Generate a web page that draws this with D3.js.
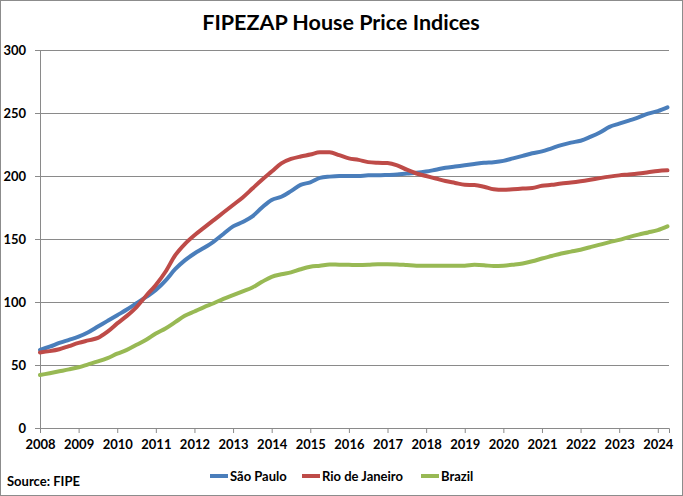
<!DOCTYPE html>
<html>
<head>
<meta charset="utf-8">
<script src="https://cdn.jsdelivr.net/npm/d3@7"></script>
<style>
body { margin: 0; background: #fff; }
text { font-family: Lato, "Open Sans", sans-serif; font-weight: bold; fill: #000; }
</style>
</head>
<body>
<div id="chartdiv"></div>
<script>
// quarterly readings, Jan 2008 .. Apr 2024
var startYear = 2008;
var step = 0.25;
var saoPaulo = [62, 64.5, 67.5, 70, 72.5, 76, 80.5, 85, 89.5, 94, 99, 104, 109.5, 117, 126, 133,
    138.5, 143, 148, 154, 160, 163.5, 168, 175, 181, 183.5, 188, 193, 195, 198.5, 199.5, 200,
    200, 200, 200.5, 200.5, 200.8, 201.2, 202, 202.5, 203.5, 205, 206.5, 207.5, 208.5, 209.5, 210.5, 211,
    212, 214, 216, 218, 219.5, 222, 224.5, 226.5, 228, 231, 234.5, 239, 241.5, 244, 246.5, 249.5, 251.5, 254.5];
var rio = [60, 61, 62.5, 65, 67.5, 69.5, 71.5, 76.5, 83, 89, 96, 105, 113.5, 124, 137, 146,
    153, 159, 165, 171, 177, 183, 190, 197, 203.5, 210, 213.5, 215.5, 217, 218.8, 218.8, 216.5,
    214, 212.8, 211, 210.5, 210.3, 208.5, 205, 202, 200, 198, 196, 194.5, 193, 192.8, 191.5, 189.5,
    189, 189.5, 190, 190.5, 192.2, 193, 194, 194.8, 195.8, 197, 198.3, 199.5, 200.5, 201.2, 202, 203, 204, 204.5];
var brazil = [42, 43.5, 45, 46.5, 48.2, 50.5, 52.8, 55.5, 59, 62, 66, 70, 75, 79, 84, 89,
    92.5, 96, 99, 102.5, 105.5, 108.5, 111.5, 116, 120, 122, 123.5, 126, 128, 128.8, 129.8, 129.6,
    129.5, 129.4, 129.6, 130, 130, 129.8, 129.3, 128.8, 128.7, 128.7, 128.7, 128.7, 128.8, 129.5, 129.2, 128.5,
    128.8, 129.6, 130.6, 132.3, 134.5, 136.5, 138.5, 140, 141.5, 143.5, 145.5, 147.5, 149.3, 151.5, 153.5, 155.2, 157, 160];
var seriesNames = ["São Paulo", "Rio de Janeiro", "Brazil"];
var colors = ["#4a7ebb", "#be4b48", "#98b954"];
var yearTicks = d3.range(2008, 2025);
var yTicks = [0, 50, 100, 150, 200, 250, 300];

var W = 683, H = 496;
var svg = d3.select("#chartdiv").append("svg").attr("width", W).attr("height", H);
svg.append("rect").attr("x", 0.5).attr("y", 0.5).attr("width", W - 1).attr("height", H - 1)
    .attr("fill", "#fff").attr("stroke", "#8c8c8c");

var x = d3.scaleLinear().domain([2008, 2024.29]).range([40, 669]);
var y = d3.scaleLinear().domain([0, 300]).range([428, 50]);

// gridlines
svg.append("g").selectAll("line").data(yTicks.slice(1)).enter().append("line")
    .attr("x1", 35).attr("x2", 669)
    .attr("y1", function(d){ return y(d); }).attr("y2", function(d){ return y(d); })
    .attr("stroke", "#8a8a8a").attr("stroke-width", 1).attr("shape-rendering", "crispEdges");

// y axis
var yAxis = svg.append("g").attr("transform", "translate(40,0)")
    .call(d3.axisLeft(y).tickValues(yTicks).tickSize(5).tickPadding(9));
yAxis.select(".domain").attr("stroke", "#8a8a8a");
yAxis.selectAll(".tick line").attr("stroke", "#8a8a8a");
yAxis.selectAll("text").attr("font-size", 13).attr("font-family", "Lato").attr("font-weight", "bold").attr("fill", "#000");

// x axis
var xAxis = svg.append("g").attr("transform", "translate(0,428)")
    .call(d3.axisBottom(x).tickValues(yearTicks).tickSize(5).tickSizeOuter(5).tickPadding(7).tickFormat(d3.format("d")));
xAxis.select(".domain").attr("stroke", "#8a8a8a");
xAxis.selectAll(".tick line").attr("stroke", "#8a8a8a");
xAxis.selectAll("text").attr("font-size", 13).attr("font-family", "Lato").attr("font-weight", "bold").attr("fill", "#000");

// lines
var allSeries = [saoPaulo, rio, brazil];
var line = d3.line()
    .x(function(d, i){ return x(startYear + i * step); })
    .y(function(d){ return y(d); })
    .curve(d3.curveMonotoneX);
allSeries.forEach(function(s, k) {
    svg.append("path").attr("d", line(s)).attr("fill", "none")
        .attr("stroke", colors[k]).attr("stroke-width", 4).attr("stroke-linejoin", "round").attr("stroke-linecap", "round");
});

// title
svg.append("text").attr("x", 341).attr("y", 30).attr("text-anchor", "middle")
    .attr("font-size", 21.5).attr("font-weight", 900).text("FIPEZAP House Price Indices");

// legend
var legX = [210, 302, 421];
seriesNames.forEach(function(n, k) {
    svg.append("line").attr("x1", legX[k]).attr("x2", legX[k] + 18).attr("y1", 476).attr("y2", 476)
        .attr("stroke", colors[k]).attr("stroke-width", 4);
    svg.append("text").attr("x", legX[k] + 20).attr("y", 480.5).attr("font-size", 13).text(n);
});

svg.append("text").attr("x", 7).attr("y", 486).attr("font-size", 13).text("Source: FIPE");
</script>
</body>
</html>
